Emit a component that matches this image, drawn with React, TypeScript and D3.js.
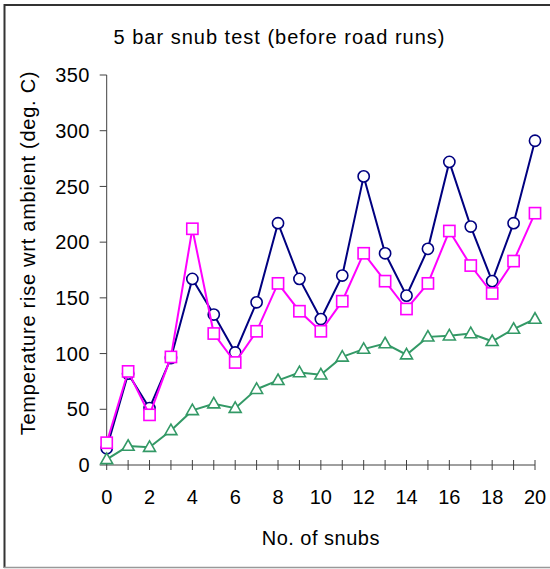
import React from "react";
import * as d3 from "d3";

const snubs = d3.range(0, 21);
const seriesCircle = [15, 82, 51, 96, 167, 135, 101, 146, 217, 167, 131, 170, 259, 190, 152, 194, 272, 214, 165, 217, 291];
const seriesSquare = [20, 84, 45, 97, 212, 118, 92, 120, 163, 138, 120, 147, 190, 165, 140, 163, 210, 179, 154, 183, 226];
const seriesTriangle = [5, 17, 16, 31, 49, 55, 51, 68, 76, 83, 81, 97, 104, 109, 99, 115, 116, 118, 111, 122, 131];
const yTicks = [0, 50, 100, 150, 200, 250, 300, 350];
const xTickLabels = [0, 2, 4, 6, 8, 10, 12, 14, 16, 18, 20];

const W = 550;
const H = 569;
const FONT = "'Liberation Sans', Arial, sans-serif";

export default function App() {
  const x = d3.scaleLinear().domain([0, 20]).range([106.7, 535]);
  const y = d3.scaleLinear().domain([0, 350]).range([465, 75]);
  const line = d3
    .line<number>()
    .x((_, i) => x(snubs[i]))
    .y((d) => y(d));

  const axisColor = "#404040";
  const navy = "#000080";
  const magenta = "#FF00FF";
  const green = "#339966";

  const triPath = (cx: number, cy: number) => {
    const hw = 6, h = 10.5;
    return `M${cx},${cy - h * 0.6}L${cx + hw},${cy + h * 0.4}L${cx - hw},${cy + h * 0.4}Z`;
  };

  return (
    <svg width={W} height={H} style={{ position: "absolute", left: 0, top: 0, background: "#fff" }} fontFamily={FONT}>
      <rect x={0} y={0} width={W} height={H} fill="#fff" />
      {/* frame */}
      <line x1={4.5} y1={4} x2={4.5} y2={568} stroke="#333" strokeWidth={2} />
      <line x1={4} y1={5} x2={W} y2={5} stroke="#333" strokeWidth={2} />
      <line x1={4} y1={567.5} x2={W} y2={567.5} stroke="#999" strokeWidth={1.5} />

      {/* title */}
      <text x={279.5} y={44} textAnchor="middle" fontSize={20} letterSpacing={1} fill="#000">
        5 bar snub test (before road runs)
      </text>

      {/* y axis */}
      <line x1={x(0)} y1={y(0)} x2={x(0)} y2={y(350)} stroke={axisColor} strokeWidth={1} />
      {yTicks.map((t) => (
        <g key={"yt" + t}>
          <line x1={x(0) - 7} x2={x(0)} y1={y(t)} y2={y(t)} stroke={axisColor} strokeWidth={1} />
          <text x={90} y={y(t)} dy="0.36em" textAnchor="end" fontSize={20} letterSpacing={0.5} fill="#000">
            {t}
          </text>
        </g>
      ))}

      {/* x axis */}
      <line x1={x(0)} y1={y(0)} x2={x(20)} y2={y(0)} stroke={axisColor} strokeWidth={1} />
      {snubs.map((s) => (
        <line key={"xt" + s} x1={x(s)} x2={x(s)} y1={y(0) - 5} y2={y(0) + 5} stroke={axisColor} strokeWidth={1} />
      ))}
      {xTickLabels.map((s) => (
        <text key={"xl" + s} x={x(s)} y={503.5} textAnchor="middle" fontSize={20} fill="#000">
          {s}
        </text>
      ))}

      {/* axis titles */}
      <text x={(x(0) + x(20)) / 2} y={545} textAnchor="middle" fontSize={20} letterSpacing={0.5} fill="#000">
        No. of snubs
      </text>
      <text
        transform={`translate(34.5, 253) rotate(-90)`}
        textAnchor="middle"
        fontSize={20}
        letterSpacing={0.75}
        fill="#000"
      >
        Temperature rise wrt ambient (deg. C)
      </text>

      {/* navy circles */}
      <path d={line(seriesCircle) || ""} fill="none" stroke={navy} strokeWidth={2} />
      {seriesCircle.map((v, i) => (
        <circle key={"c" + i} cx={x(snubs[i])} cy={y(v)} r={5.6} fill="#fff" stroke={navy} strokeWidth={1.6} />
      ))}

      {/* magenta squares */}
      <path d={line(seriesSquare) || ""} fill="none" stroke={magenta} strokeWidth={2} />
      {seriesSquare.map((v, i) => (
        <rect key={"s" + i} x={x(snubs[i]) - 5.6} y={y(v) - 5.6} width={11.2} height={11.2} fill="#fff" stroke={magenta} strokeWidth={1.6} />
      ))}

      {/* green triangles */}
      <path d={line(seriesTriangle) || ""} fill="none" stroke={green} strokeWidth={2} />
      {seriesTriangle.map((v, i) => (
        <path key={"t" + i} d={triPath(x(snubs[i]), y(v))} fill="#fff" stroke={green} strokeWidth={1.6} />
      ))}
    </svg>
  );
}
